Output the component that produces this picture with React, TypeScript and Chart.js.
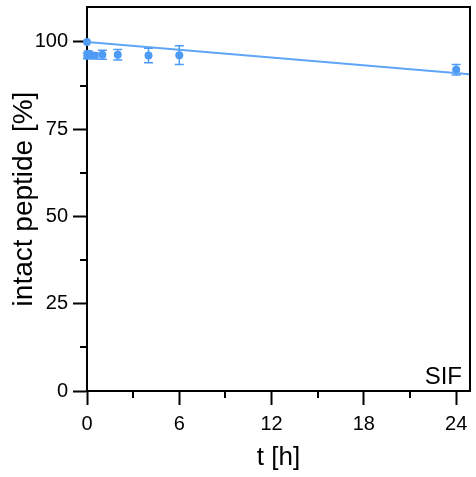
import React, { useEffect, useRef } from "react";
import { Chart, registerables } from "chart.js";

Chart.register(...registerables);

// ---- data ----
const sampleTimes = [0, 0.02, 0.08, 0.25, 0.5, 1, 2, 4, 6, 24];
const intactPercent = [100, 96.0, 96.6, 96.2, 96.0, 96.3, 96.3, 96.1, 96.2, 92.0];
const intactError = [0, 0.8, 0.8, 0.8, 0.8, 1.3, 1.5, 2.1, 2.7, 1.5];
const fitTimes = [0, 24.9];
const fitPercent = [100, 90.7];
const xTickValues = [0, 6, 12, 18, 24];
const xMinorTicks = [3, 9, 15, 21];
const yTickValues = [0, 25, 50, 75, 100];
const yMinorTicks = [12.5, 37.5, 62.5, 87.5];
const panelLabel = "SIF";
const xTitle = "t [h]";
const yTitle = "intact peptide [%]";

const BLUE = "#4e9bf6";
const LINE_BLUE = "#5ea5f5";
const FONT = "'Liberation Sans', Arial, sans-serif";

const frameAndExtras = {
  id: "frameAndExtras",
  afterDatasetsDraw(chart: any) {
    const ctx = chart.ctx;
    const xs = chart.scales.x;
    const ys = chart.scales.y;
    // error bars
    ctx.save();
    ctx.strokeStyle = BLUE;
    ctx.lineWidth = 1.5;
    sampleTimes.forEach((t, i) => {
      const e = intactError[i];
      if (!e) return;
      const px = xs.getPixelForValue(t);
      const yTop = ys.getPixelForValue(intactPercent[i] + e);
      const yBot = ys.getPixelForValue(intactPercent[i] - e);
      ctx.beginPath();
      ctx.moveTo(px, yTop);
      ctx.lineTo(px, yBot);
      ctx.moveTo(px - 4.5, yTop);
      ctx.lineTo(px + 4.5, yTop);
      ctx.moveTo(px - 4.5, yBot);
      ctx.lineTo(px + 4.5, yBot);
      ctx.stroke();
    });
    ctx.restore();
  },
  afterDraw(chart: any) {
    const ctx = chart.ctx;
    const { left, right, top, bottom } = chart.chartArea;
    const xs = chart.scales.x;
    const ys = chart.scales.y;
    ctx.save();
    ctx.strokeStyle = "#000";
    ctx.lineWidth = 2;
    ctx.beginPath();
    ctx.moveTo(left - 1, top);
    ctx.lineTo(right, top);
    ctx.lineTo(right, bottom + 1);
    ctx.stroke();
    // minor ticks
    ctx.beginPath();
    xMinorTicks.forEach((v) => {
      const px = Math.round(xs.getPixelForValue(v));
      ctx.moveTo(px, bottom);
      ctx.lineTo(px, bottom + 7);
    });
    yMinorTicks.forEach((v) => {
      const py = Math.round(ys.getPixelForValue(v));
      ctx.moveTo(left, py);
      ctx.lineTo(left - 7, py);
    });
    ctx.stroke();
    // panel label
    ctx.fillStyle = "#000";
    ctx.font = `24px ${FONT}`;
    ctx.textAlign = "right";
    ctx.textBaseline = "alphabetic";
    ctx.fillText(panelLabel, right - 8, bottom - 7);
    ctx.restore();
  },
};

export default function App() {
  const ref = useRef<HTMLCanvasElement | null>(null);
  useEffect(() => {
    if (!ref.current) return;
    const chart = new Chart(ref.current, {
      type: "scatter",
      data: {
        datasets: [
          {
            type: "line",
            data: fitTimes.map((t, i) => ({ x: t, y: fitPercent[i] })),
            borderColor: LINE_BLUE,
            borderWidth: 2,
            pointRadius: 0,
            fill: false,
          } as any,
          {
            type: "scatter",
            data: sampleTimes.map((t, i) => ({ x: t, y: intactPercent[i] })),
            backgroundColor: BLUE,
            borderColor: BLUE,
            borderWidth: 0,
            pointRadius: 4,
            clip: false,
          } as any,
        ],
      },
      options: {
        responsive: false,
        animation: false,
        layout: { padding: { top: 7, right: 6, left: 0, bottom: 0 } },
        plugins: { legend: { display: false }, tooltip: { enabled: false } },
        scales: {
          x: {
            type: "linear",
            min: 0,
            max: 24.9,
            afterBuildTicks: (s: any) => {
              s.ticks = xTickValues.map((v) => ({ value: v }));
            },
            afterFit: (s: any) => {
              s.height = 86;
              s.paddingLeft = 0;
              s.paddingRight = 0;
            },
            grid: {
              drawOnChartArea: false,
              color: "#000",
              tickLength: 14,
              tickWidth: 2,
            },
            border: { display: true, color: "#000", width: 2 },
            ticks: {
              color: "#000",
              font: { family: FONT, size: 20 },
              padding: 7,
              maxRotation: 0,
            },
            title: {
              display: true,
              text: xTitle,
              color: "#000",
              font: { family: FONT, size: 26 },
              padding: { top: 0, bottom: 4 },
            },
          },
          y: {
            type: "linear",
            min: 0,
            max: 110,
            afterBuildTicks: (s: any) => {
              s.ticks = yTickValues.map((v) => ({ value: v }));
            },
            afterFit: (s: any) => {
              s.width = 87;
              s.paddingTop = 0;
              s.paddingBottom = 0;
            },
            grid: {
              drawOnChartArea: false,
              color: "#000",
              tickLength: 14,
              tickWidth: 2,
            },
            border: { display: true, color: "#000", width: 2 },
            ticks: {
              color: "#000",
              font: { family: FONT, size: 20 },
              padding: 5,
            },
            title: {
              display: true,
              text: yTitle,
              color: "#000",
              font: { family: FONT, size: 28 },
              padding: { top: 7, bottom: 0 },
            },
          },
        },
      },
      plugins: [frameAndExtras],
    });
    return () => chart.destroy();
  }, []);
  return (
    <div style={{ position: "fixed", left: 0, top: 0, width: 476, height: 477, background: "#fff" }}>
      <canvas ref={ref} width={476} height={477} style={{ display: "block" }} />
    </div>
  );
}
